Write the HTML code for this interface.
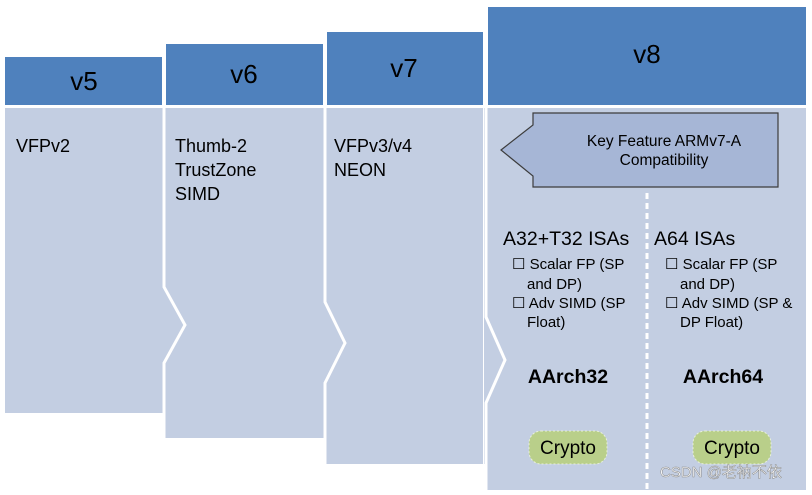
<!DOCTYPE html>
<html><head><style>
body{margin:0;background:#fff;}
svg text{font-family:"Liberation Sans","Noto Sans CJK SC",sans-serif;}
</style></head><body>
<svg width="812" height="490" viewBox="0 0 812 490" xmlns="http://www.w3.org/2000/svg">
<rect width="812" height="490" fill="#fff"/>
<rect x="5" y="57" width="157" height="48" fill="#4f81bd"/>
<rect x="166" y="44" width="157" height="61" fill="#4f81bd"/>
<rect x="327" y="32" width="156" height="73" fill="#4f81bd"/>
<rect x="488" y="7" width="318" height="98" fill="#4f81bd"/>
<g font-size="26" fill="#000" text-anchor="middle">
<text x="84" y="90">v5</text>
<text x="244" y="83">v6</text>
<text x="404" y="77">v7</text>
<text x="647" y="63">v8</text>
</g>
<rect x="5" y="108" width="157" height="305" fill="#c3cee2"/>
<rect x="162" y="108" width="161" height="330" fill="#c3cee2"/>
<rect x="323" y="108" width="160" height="356" fill="#c3cee2"/>
<rect x="484" y="108" width="322" height="382" fill="#c3cee2"/>
<rect x="162" y="413" width="2" height="30" fill="#fff"/>
<rect x="323" y="438" width="2" height="30" fill="#fff"/>
<rect x="484" y="464" width="2" height="30" fill="#fff"/>
<g fill="none" stroke="#fff" stroke-width="3">
<polyline points="164,105 164,287 185,325 164,363 164,440"/>
<polyline points="325,105 325,302 345,343 325,383 325,466"/>
<polyline points="486,105 486,317 505,360 486,403 486,490"/>
</g>
<g font-size="18" fill="#000">
<text x="16" y="152">VFPv2</text>
<text x="175" y="152">Thumb-2</text>
<text x="175" y="176">TrustZone</text>
<text x="175" y="200">SIMD</text>
<text x="334" y="152">VFPv3/v4</text>
<text x="334" y="176">NEON</text>
</g>
<polygon points="501,150 533,125 533,113 778,113 778,187 533,187 533,176" fill="#a6b6d6" stroke="#3c3c3c" stroke-width="1.2"/>
<g font-size="15.5" fill="#000" text-anchor="middle">
<text x="664" y="146">Key Feature ARMv7-A</text>
<text x="664" y="165">Compatibility</text>
</g>
<line x1="647" y1="193" x2="647" y2="490" stroke="#fff" stroke-width="3" stroke-dasharray="6,4"/>
<g font-size="19.5" fill="#000">
<text x="503" y="245">A32+T32 ISAs</text>
<text x="654" y="245">A64 ISAs</text>
</g>
<g font-size="15" fill="#000">
<text x="512" y="269">☐ Scalar FP (SP</text>
<text x="527" y="289">and DP)</text>
<text x="512" y="308">☐ Adv SIMD (SP</text>
<text x="527" y="327">Float)</text>
<text x="665" y="269">☐ Scalar FP (SP</text>
<text x="680" y="289">and DP)</text>
<text x="665" y="308">☐ Adv SIMD (SP &amp;</text>
<text x="680" y="327">DP Float)</text>
</g>
<g font-size="19.5" font-weight="bold" fill="#000" text-anchor="middle">
<text x="568" y="383">AArch32</text>
<text x="723" y="383">AArch64</text>
</g>
<rect x="529" y="431" width="78" height="33" rx="12" fill="#b9cf8a" stroke="#e8f0d8" stroke-width="1" stroke-dasharray="2,2"/>
<rect x="693" y="431" width="78" height="33" rx="12" fill="#b9cf8a" stroke="#e8f0d8" stroke-width="1" stroke-dasharray="2,2"/>
<g font-size="19" fill="#000" text-anchor="middle">
<text x="568" y="454">Crypto</text>
<text x="732" y="454">Crypto</text>
</g>
<text x="660" y="477" font-size="15" fill="#ffffff" stroke="#8a8a8a" stroke-width="0.5">CSDN @老衲不依</text>
</svg>
</body></html>
